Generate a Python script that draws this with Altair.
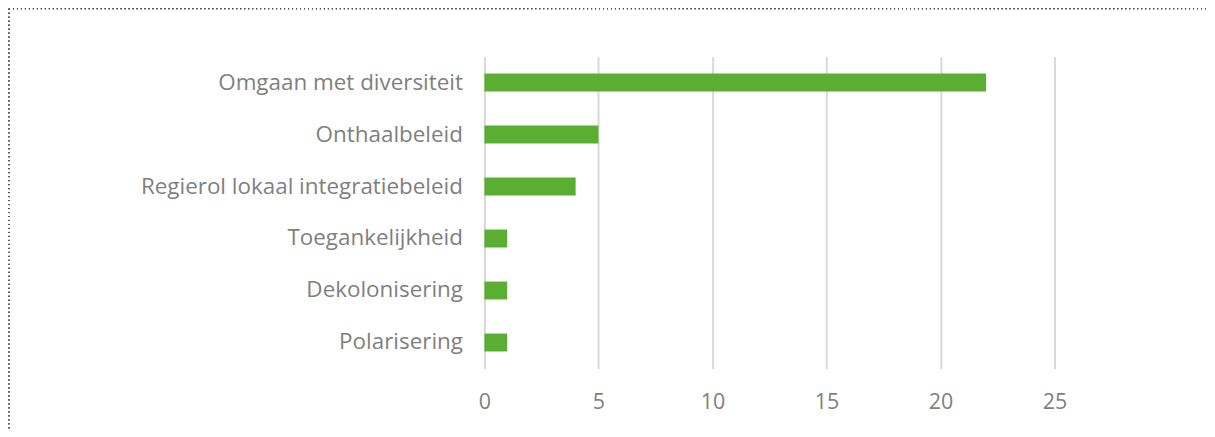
import altair as alt
import pandas as pd

categories = ["Omgaan met diversiteit", "Onthaalbeleid", "Regierol lokaal integratiebeleid",
              "Toegankelijkheid", "Dekolonisering", "Polarisering"]
values = [22, 5, 4, 1, 1, 1]
x_ticks = [0, 5, 10, 15, 20, 25]

df = pd.DataFrame({"cat": categories, "val": values})

FONT = "Open Sans"
GRAY = "#7f7f7f"

bars = alt.Chart(df).mark_bar(size=18, color="#5aaf32").encode(
    x=alt.X("val:Q", scale=alt.Scale(domain=[0, 25], nice=False),
            axis=alt.Axis(values=x_ticks, title=None, grid=True, gridColor="#d9d9d9",
                          gridWidth=2, domain=False, ticks=False, labelPadding=23,
                          labelFlush=False,
                          labelFont=FONT, labelFontSize=21.5, labelColor=GRAY)),
    y=alt.Y("cat:N", sort=categories,
            axis=alt.Axis(title=None, domain=False, ticks=False, labelPadding=22,
                          labelFont=FONT, labelFontSize=22.5, labelColor=GRAY, labelLimit=400)),
)

border_top = alt.Chart(df).mark_rule(color="#555555", strokeDash=[1, 3], strokeWidth=1).encode(
    x=alt.value(-477), x2=alt.value(726), y=alt.value(-48)
)
border_left = alt.Chart(df).mark_rule(color="#555555", strokeDash=[1, 3], strokeWidth=1).encode(
    x=alt.value(-477), y=alt.value(-48), y2=alt.value(400)
)

chart = alt.layer(bars, border_top, border_left).properties(
    width=572, height=313,
    background="white",
    autosize=alt.AutoSizeParams(type="none"),
    padding={"left": 478, "top": 48, "right": 153, "bottom": 60},
).configure_view(strokeWidth=0, stroke="transparent")

chart.save("out.html", embed_options={"renderer": "svg", "actions": False})
